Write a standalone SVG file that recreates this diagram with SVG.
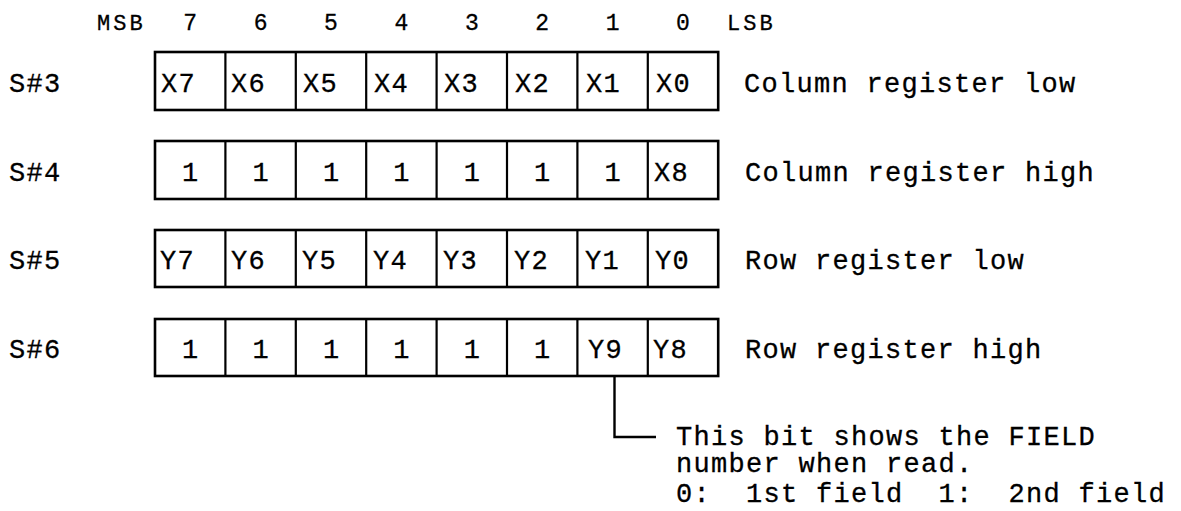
<svg xmlns="http://www.w3.org/2000/svg" width="1181" height="511" viewBox="0 0 1181 511">
<style>
text{font-family:"Liberation Mono","Courier New",monospace;fill:#000;stroke:#000;stroke-width:0.3;white-space:pre}
.t{font-size:27px;letter-spacing:1.3px}
.h{font-size:23px;letter-spacing:0.5px}
.hm{font-size:22px;letter-spacing:3px}
.c{text-anchor:middle;letter-spacing:0}
.box{fill:#fff;stroke:#000;stroke-width:2.6}
.div{stroke:#000;stroke-width:2.2}
.con{fill:none;stroke:#000;stroke-width:2.4}
</style>
<rect width="1181" height="511" fill="#fff"/>
<g id="header">
<text class="hm" x="97" y="30">MSB</text>
<text class="h c" x="190.2" y="30">7</text>
<text class="h c" x="260.6" y="30">6</text>
<text class="h c" x="331" y="30">5</text>
<text class="h c" x="401.4" y="30">4</text>
<text class="h c" x="471.8" y="30">3</text>
<text class="h c" x="542.2" y="30">2</text>
<text class="h c" x="612.6" y="30">1</text>
<text class="h c" x="683" y="30">0</text>
<text class="hm" x="727" y="30">LSB</text>
</g>
<g id="reg-s3">
<text class="t" x="9" y="92">S#3</text>
<rect class="box" x="155" y="52" width="563.2" height="58"/>
<path class="div" d="M225.4 52V110M295.8 52V110M366.2 52V110M436.6 52V110M507 52V110M577.4 52V110M647.8 52V110"/>
<text class="t" x="161" y="92">X7</text>
<text class="t" x="231" y="92">X6</text>
<text class="t" x="303" y="92">X5</text>
<text class="t" x="374" y="92">X4</text>
<text class="t" x="444" y="92">X3</text>
<text class="t" x="515" y="92">X2</text>
<text class="t" x="586" y="92">X1</text>
<text class="t" x="656" y="92">X0</text>
<text class="t" x="744" y="92">Column register low</text>
</g>
<g id="reg-s4">
<text class="t" x="9" y="181">S#4</text>
<rect class="box" x="155" y="141" width="563.2" height="58"/>
<path class="div" d="M225.4 141V199M295.8 141V199M366.2 141V199M436.6 141V199M507 141V199M577.4 141V199M647.8 141V199"/>
<text class="t c" x="190.2" y="181">1</text>
<text class="t c" x="260.6" y="181">1</text>
<text class="t c" x="331" y="181">1</text>
<text class="t c" x="401.4" y="181">1</text>
<text class="t c" x="471.8" y="181">1</text>
<text class="t c" x="542.2" y="181">1</text>
<text class="t c" x="612.6" y="181">1</text>
<text class="t" x="654" y="181">X8</text>
<text class="t" x="745" y="181">Column register high</text>
</g>
<g id="reg-s5">
<text class="t" x="9" y="269">S#5</text>
<rect class="box" x="155" y="230" width="563.2" height="57"/>
<path class="div" d="M225.4 230V287M295.8 230V287M366.2 230V287M436.6 230V287M507 230V287M577.4 230V287M647.8 230V287"/>
<text class="t" x="160" y="269">Y7</text>
<text class="t" x="231" y="269">Y6</text>
<text class="t" x="302" y="269">Y5</text>
<text class="t" x="373" y="269">Y4</text>
<text class="t" x="443" y="269">Y3</text>
<text class="t" x="514" y="269">Y2</text>
<text class="t" x="585" y="269">Y1</text>
<text class="t" x="655" y="269">Y0</text>
<text class="t" x="745" y="269">Row register low</text>
</g>
<g id="reg-s6">
<text class="t" x="9" y="358">S#6</text>
<rect class="box" x="155" y="319" width="563.2" height="57"/>
<path class="div" d="M225.4 319V376M295.8 319V376M366.2 319V376M436.6 319V376M507 319V376M577.4 319V376M647.8 319V376"/>
<text class="t c" x="190.2" y="358">1</text>
<text class="t c" x="260.6" y="358">1</text>
<text class="t c" x="331" y="358">1</text>
<text class="t c" x="401.4" y="358">1</text>
<text class="t c" x="471.8" y="358">1</text>
<text class="t c" x="542.2" y="358">1</text>
<text class="t" x="588" y="358">Y9</text>
<text class="t" x="653" y="358">Y8</text>
<text class="t" x="745" y="358">Row register high</text>
</g>
<g id="connectors">
<path class="con" d="M614.5 376V437H656"/>
</g>
<g id="note">
<text class="t" x="676" y="445">This bit shows the FIELD</text>
<text class="t" x="676" y="472">number when read.</text>
<text class="t" x="676" y="502" xml:space="preserve">0:  1st field  1:  2nd field</text>
</g>
</svg>
